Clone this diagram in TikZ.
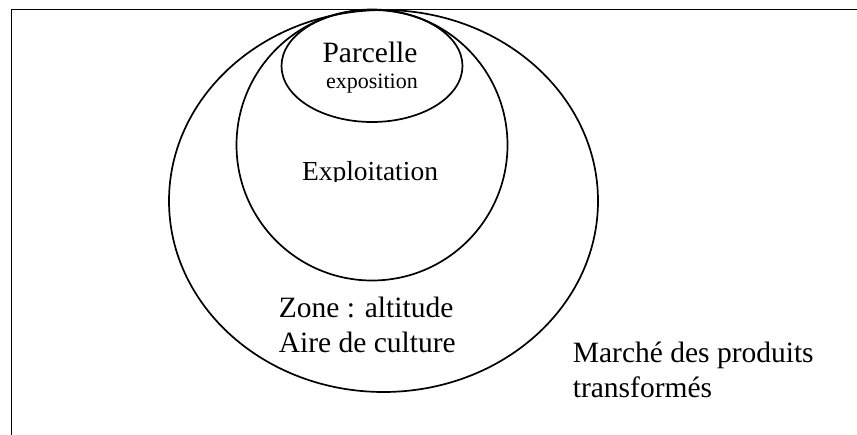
\documentclass[tikz,border=0pt]{standalone}
\usepackage{fontspec}
\setmainfont{Liberation Serif}
\usetikzlibrary{shapes, positioning}

\begin{document}
\begin{tikzpicture}[x=1pt, y=-1pt, line width=1.7pt,
  ring/.style={ellipse, draw, inner sep=0pt},
  lbl/.style={font=\fontsize{29.5}{35}\selectfont, inner sep=0pt, align=left}]
  \clip (0,0) rectangle (857,434);
  \draw (11.5,450) |- (870,9.5);
  \node[ring, minimum width=429pt, minimum height=382pt] (zone) at (383.5,201) {};
  \node[ring, minimum width=271pt, minimum height=271pt] (exploit) at (372,145) {};
  \node[ring, minimum width=181pt, minimum height=112pt] (parcelle) at (372,66) {};
  \node[lbl, anchor=base] (parcelletxt) at (370,62) {Parcelle};
  \node[font=\fontsize{22}{26}\selectfont, inner sep=0pt, anchor=base] (expo) at (372,88) {exposition};
  \begin{scope}
    \clip (200,130) rectangle (540,181);
    \node[lbl, font=\fontsize{27.5}{35}\selectfont, anchor=base] (exploittxt) at (370,180) {Exploitation};
  \end{scope}
  \node[lbl, anchor=base west] (zonetxt) at (278,352) {Zone : altitude\\Aire de culture};
  \node[lbl, anchor=base west] (marche) at (572,397) {Marché des produits\\transformés};
\end{tikzpicture}
\end{document}
